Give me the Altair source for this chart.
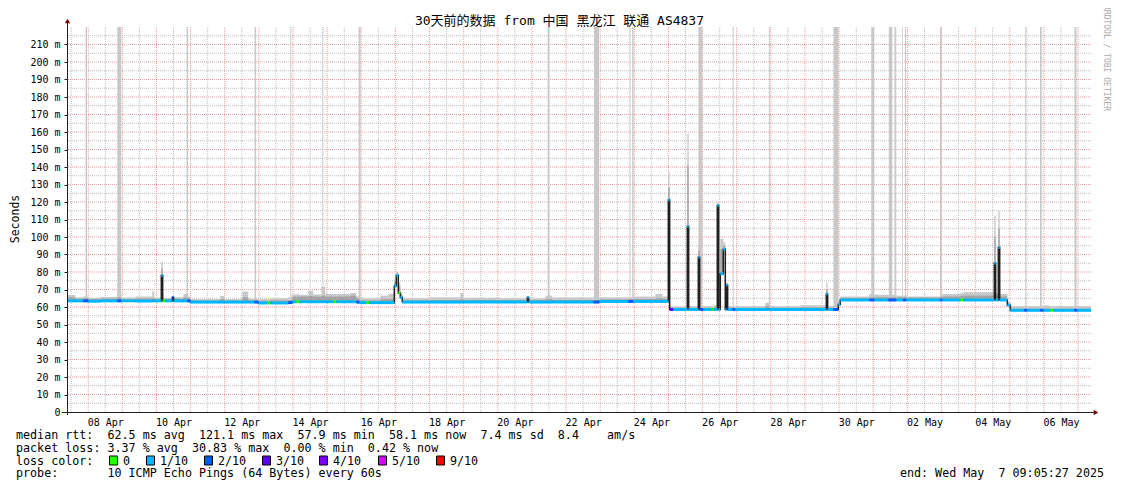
import altair as alt
import pandas as pd

TITLE = "30天前的数据 from 中国 黑龙江 联通 AS4837"
T_END = 30.0          # days shown (Apr 7 09:05:27 -> May 7 09:05:27)
Y_MAX = 220           # ms

# ---- median rtt segments: start (days since Apr 7 09:05:27), median (ms), loss (x/10)
SEG_T = [0.000, 0.243, 0.478, 0.624, 0.976, 1.474, 1.591, 2.001, 2.499, 2.558,
         2.763, 2.803, 2.880, 3.085, 3.125, 3.407, 3.524, 3.612, 4.491, 4.608,
         5.136, 5.311, 5.487, 5.604, 5.868, 5.956, 6.483, 6.601, 6.718, 6.806,
         7.069, 7.216, 7.450, 7.567, 7.802, 7.890, 8.300, 8.476, 8.564, 8.769,
         8.856, 9.179, 9.413, 9.589, 9.648, 9.706, 9.765, 9.823, 10.644, 11.522,
         11.610, 12.694, 13.485, 13.525, 14.013, 14.218, 15.419, 15.595, 16.445, 16.591,
         17.236, 17.440, 17.616, 17.656, 17.763, 18.173, 18.213, 18.495, 18.535, 18.642,
         18.876, 18.935, 19.052, 19.092, 19.140, 19.228, 19.286, 19.315, 19.355, 19.491,
         19.579, 20.458, 20.575, 21.483, 22.245, 22.285, 22.450, 22.597, 22.655, 23.505,
         23.652, 24.062, 24.296, 24.501, 24.589, 25.585, 25.644, 26.171, 26.259, 27.167,
         27.207, 27.285, 27.325, 27.548, 27.636, 28.046, 28.134, 28.515, 28.603, 28.808,
         28.896, 29.511, 29.599]
SEG_MED = [63.5, 63.5, 63.5, 63.3, 63.5, 63.5, 63.5, 63.4, 63.5, 63.5,
           78.0, 63.5, 63.5, 65.5, 63.5, 63.5, 63.5, 62.8, 62.8, 62.8,
           62.8, 62.8, 62.8, 62.3, 62.3, 62.3, 62.5, 63.0, 63.0, 63.0,
           63.0, 63.0, 63.0, 63.0, 63.0, 63.0, 63.0, 62.8, 62.5, 62.5,
           62.5, 62.5, 62.5, 72.0, 78.0, 68.0, 65.5, 62.8, 62.8, 62.8,
           62.8, 62.8, 65.5, 62.8, 62.8, 62.8, 62.8, 63.2, 63.2, 63.2,
           63.2, 63.2, 121.1, 58.6, 58.6, 106.0, 58.6, 88.5, 58.6, 58.6,
           58.6, 58.6, 118.0, 58.6, 79.0, 93.0, 58.6, 72.5, 58.6, 58.6,
           58.6, 58.6, 58.6, 58.6, 67.5, 58.6, 58.6, 61.5, 64.0, 64.0,
           64.0, 64.0, 64.0, 64.0, 64.0, 64.0, 64.0, 64.0, 64.0, 85.0,
           64.0, 94.0, 64.0, 61.0, 58.1, 58.1, 58.1, 58.1, 58.1, 58.1,
           58.1, 58.1, 58.1]
SEG_LOSS = [1, 1, 2, 1, 1, 2, 1, 1, 1, 1,
            1, 0, 1, 2, 1, 1, 2, 1, 1, 1,
            1, 1, 2, 1, 0, 1, 2, 1, 0, 1,
            1, 1, 1, 1, 0, 1, 1, 2, 1, 0,
            1, 1, 1, 1, 1, 0, 1, 1, 1, 1,
            1, 1, 1, 1, 1, 1, 2, 1, 2, 1,
            1, 1, 1, 3, 1, 1, 1, 1, 2, 1,
            0, 1, 1, 1, 1, 1, 1, 1, 1, 2,
            1, 1, 1, 1, 1, 1, 2, 1, 1, 2,
            1, 2, 1, 2, 1, 2, 1, 0, 1, 1,
            1, 1, 1, 1, 1, 2, 1, 2, 1, 0,
            1, 2, 1]
# ---- smoke (ms): darker inner smoke top, light outer smoke top
SMOKE_MID = [65.5, 64.8, 65.0, 64.6, 64.8, 65.5, 64.6, 64.8, 65.2, 64.6,
             82.0, 64.6, 64.6, 66.0, 64.8, 65.5, 65.0, 63.8, 64.5, 63.8,
             65.5, 63.8, 63.8, 63.5, 63.5, 63.8, 64.0, 65.9, 65.9, 66.0,
             66.3, 65.9, 66.5, 65.9, 66.0, 66.0, 66.5, 65.0, 63.8, 63.8,
             63.8, 64.5, 64.5, 74.0, 79.0, 72.0, 67.0, 63.8, 64.0, 64.5,
             64.0, 63.8, 66.0, 64.0, 64.5, 64.0, 64.0, 64.3, 64.3, 64.5,
             65.0, 64.5, 128.0, 59.5, 59.5, 141.0, 59.5, 92.0, 59.5, 59.5,
             59.5, 59.5, 119.0, 59.5, 93.0, 95.0, 60.0, 73.0, 59.5, 59.5,
             59.5, 60.5, 59.5, 59.8, 70.0, 59.5, 59.5, 62.5, 65.2, 65.5,
             65.5, 65.5, 65.5, 65.5, 65.5, 65.8, 66.0, 66.5, 66.5, 100.0,
             66.5, 105.0, 66.0, 62.0, 59.0, 59.0, 59.0, 59.0, 59.0, 59.0,
             59.0, 59.0, 59.0]
SMOKE_HI = [66.9, 65.5, 66.0, 65.3, 65.8, 67.4, 65.5, 66.0, 69.0, 65.3,
            86.0, 65.2, 65.2, 66.5, 65.5, 67.4, 66.0, 64.5, 66.3, 64.5,
            68.8, 64.8, 64.8, 64.6, 64.6, 65.0, 65.5, 67.2, 67.5, 67.0,
            69.3, 67.2, 71.6, 67.5, 67.5, 67.5, 68.0, 66.0, 65.0, 65.0,
            65.0, 66.5, 67.5, 76.0, 80.0, 74.0, 68.0, 65.0, 65.5, 68.0,
            65.3, 65.0, 66.5, 65.0, 66.5, 65.5, 65.5, 65.5, 65.5, 66.0,
            67.5, 66.0, 137.0, 60.3, 60.3, 159.0, 60.5, 95.0, 60.5, 60.5,
            60.5, 61.0, 120.0, 61.0, 99.0, 97.0, 61.0, 74.0, 60.5, 60.5,
            60.5, 62.5, 60.5, 61.0, 74.0, 60.5, 60.5, 63.5, 66.0, 67.4,
            67.0, 67.0, 66.5, 66.5, 66.0, 67.0, 67.5, 68.0, 68.5, 112.0,
            68.0, 115.0, 67.5, 63.0, 60.5, 60.5, 60.5, 60.5, 60.8, 60.5,
            60.5, 60.5, 60.5]

# ---- full-height smoke bars (pings far above the scale)
BAR_T0 = [0.545, 1.474, 3.504, 5.497, 6.543, 7.480, 8.544, 14.082, 15.438, 16.478,
          16.558, 18.500, 19.502, 20.563, 22.453, 23.563, 24.078, 24.245, 24.465, 24.553,
          25.576, 28.074, 28.508, 29.517]
BAR_T1 = [0.586, 1.591, 3.545, 5.538, 6.572, 7.510, 8.602, 14.132, 15.588, 16.507,
          16.599, 18.608, 19.531, 20.592, 22.603, 23.653, 24.178, 24.295, 24.486, 24.582,
          25.617, 28.100, 28.558, 29.576]
BAR_LO = [64, 64, 64, 63, 63, 63, 63, 63, 63, 63,
          63, 58.6, 58.6, 58.6, 58.6, 64, 64, 64, 64, 64,
          64, 58.1, 58.1, 58.1]

X_LABELS = ["08 Apr", "10 Apr", "12 Apr", "14 Apr", "16 Apr", "18 Apr", "20 Apr", "22 Apr",
            "24 Apr", "26 Apr", "28 Apr", "30 Apr", "02 May", "04 May", "06 May"]
FIRST_LABEL = 1.1212      # Apr 8 12:00
FIRST_NOON = 0.1212       # Apr 7 12:00
FIRST_MIDNIGHT = 0.6212   # Apr 8 00:00
Y_TICKS = list(range(0, 211, 10))

LOSS_LEVELS = [0, 1, 2, 3, 4, 5, 9]
LOSS_LABELS = ["0", "1/10", "2/10", "3/10", "4/10", "5/10", "9/10"]
LOSS_COLORS = ["#26ff00", "#00b8ff", "#0059ff", "#5e00ff", "#7e00ff", "#dd00ff", "#ff0000"]

ROW1 = "median rtt:  62.5 ms avg  121.1 ms max  57.9 ms min  58.1 ms now  7.4 ms sd  8.4    am/s"
ROW2 = "packet loss: 3.37 % avg  30.83 % max  0.00 % min  0.42 % now"
ROW3 = "loss color:"
ROW4 = "probe:       10 ICMP Echo Pings (64 Bytes) every 60s"
END_TXT = "end: Wed May  7 09:05:27 2025"
WATERMARK = "RRDTOOL / TOBI OETIKER"

# ---------------------------------------------------------------- layout
W, H = 1024, 385
MONO = "DejaVu Sans Mono, Noto Sans CJK SC"
LEG_X = [42, 79, 137, 195, 252, 311, 369]   # square left edges (px)
ROW_Y = [407.5, 420.5, 433.5, 445.5]         # text rows below the plot (px)

seg = pd.DataFrame({"t": SEG_T, "med": SEG_MED, "loss": SEG_LOSS,
                    "mid": SMOKE_MID, "hi": SMOKE_HI})
seg["t2"] = SEG_T[1:] + [T_END]
seg["m_lo"] = seg["med"] - 0.85
seg["m_hi"] = seg["med"] + 0.85
line_df = pd.DataFrame({"t": SEG_T + [T_END], "med": SEG_MED + [SEG_MED[-1]]})
bars = pd.DataFrame({"t0": BAR_T0, "t1": BAR_T1, "lo": BAR_LO, "top": [Y_MAX] * len(BAR_T0)})

label_vals = [FIRST_LABEL + 2 * i for i in range(len(X_LABELS))]
arr = "[" + ",".join("'%s'" % s for s in X_LABELS) + "]"
XAX = alt.Axis(values=label_vals, labelExpr=f"{arr}[round((datum.value - {FIRST_LABEL}) / 2)]",
               title=None, grid=False, domain=False, ticks=True, tickSize=0,
               labelFont=MONO, labelFontSize=10, labelColor="#000000", labelPadding=5,
               labelAngle=0, labelFlush=False, labelOverlap=False)
YAX = alt.Axis(values=Y_TICKS,
               labelExpr="datum.value == 0 ? '0\u00a0\u00a0' : datum.value + '\u00a0m'",
               title=None, grid=False, domain=False, ticks=True, tickSize=3, tickColor="#212121",
               labelFont=MONO, labelFontSize=10, labelColor="#000000", labelPadding=4)
XS = alt.Scale(domain=[0, T_END], nice=False, zero=False)
YS = alt.Scale(domain=[0, Y_MAX], nice=False, zero=False)


def X(f):
    return alt.X(f, type="quantitative", scale=XS, axis=XAX)


def Y(f):
    return alt.Y(f, type="quantitative", scale=YS, axis=YAX)


ONE = pd.DataFrame({"k": [0]})


def label(s, x, y, size=11.7, align="left", angle=0, color="#000000", font=MONO):
    return alt.Chart(ONE).mark_text(text=s.replace(" ", "\u00a0"), font=font, fontSize=size,
                                    align=align, angle=angle, color=color,
                                    baseline="middle").encode(x=alt.value(x), y=alt.value(y))


grid_minor_y = alt.Chart(pd.DataFrame({"v": list(range(5, Y_MAX, 10))})).mark_rule(
    color="#999999", opacity=0.65, strokeDash=[1, 1], strokeWidth=1).encode(y=Y("v"))
grid_minor_x = alt.Chart(pd.DataFrame({"v": [FIRST_NOON + k for k in range(30)]})).mark_rule(
    color="#999999", opacity=0.65, strokeDash=[1, 1], strokeWidth=1).encode(x=X("v"))
grid_major_y = alt.Chart(pd.DataFrame({"v": list(range(10, Y_MAX, 10))})).mark_rule(
    color="#e05a5a", opacity=0.6, strokeDash=[1, 1], strokeWidth=1).encode(y=Y("v"))
grid_major_x = alt.Chart(pd.DataFrame({"v": [FIRST_MIDNIGHT + k for k in range(30)]})).mark_rule(
    color="#e05a5a", opacity=0.6, strokeDash=[1, 1], strokeWidth=1).encode(x=X("v"))

smoke_hi = alt.Chart(seg).mark_rect(color="#c8c8c8").encode(x=X("t"), x2="t2", y=Y("med"), y2="hi")
full_bars = alt.Chart(bars).mark_rect(color="#c8c8c8").encode(x=X("t0"), x2="t1", y=Y("lo"), y2="top")
smoke_mid = alt.Chart(seg).mark_rect(color="#a2a2a2").encode(x=X("t"), x2="t2", y=Y("med"), y2="mid")
median = alt.Chart(line_df).mark_line(color="#202020", strokeWidth=1.5, interpolate="step-after").encode(
    x=X("t"), y=Y("med"))
stripe = alt.Chart(seg).mark_rect().encode(
    x=X("t"), x2="t2", y=Y("m_lo"), y2="m_hi",
    color=alt.Color("loss:N", scale=alt.Scale(domain=LOSS_LEVELS, range=LOSS_COLORS), legend=None))

axis_y = alt.Chart(ONE).mark_rule(color="#212121", strokeWidth=1).encode(
    x=alt.value(0.5), y=alt.value(-6), y2=alt.value(H + 3))
axis_x = alt.Chart(ONE).mark_rule(color="#212121", strokeWidth=1).encode(
    x=alt.value(-5), x2=alt.value(W + 4), y=alt.value(H + 0.5))
arrow_up = alt.Chart(ONE).mark_point(shape="triangle-up", filled=True, size=28, color="#800000",
                                     opacity=1).encode(x=alt.value(0.5), y=alt.value(-6))
arrow_rt = alt.Chart(ONE).mark_point(shape="triangle-right", filled=True, size=28, color="#800000",
                                     opacity=1).encode(x=alt.value(W + 5), y=alt.value(H + 0.5))

texts = [
    label(TITLE, 492.5, -6, size=13, align="center"),
    label("Seconds", -51.5, 192, size=11.5, align="center", angle=270),
    label(WATERMARK, 1039, -22, size=8, align="left", angle=90, color="#a8a8a8"),
    label(ROW1, -51, ROW_Y[0]),
    label(ROW2, -51, ROW_Y[1]),
    label(ROW3, -51, ROW_Y[2]),
    label(ROW4, -51, ROW_Y[3]),
    label(END_TXT, 1037, ROW_Y[3], align="right"),
]
legend_layers = []
for i, (lab, col) in enumerate(zip(LOSS_LABELS, LOSS_COLORS)):
    legend_layers.append(
        alt.Chart(ONE).mark_rect(fill=col, stroke="#000000", strokeWidth=1).encode(
            x=alt.value(LEG_X[i] + 0.5), x2=alt.value(LEG_X[i] + 8.5),
            y=alt.value(ROW_Y[2] - 4.5), y2=alt.value(ROW_Y[2] + 4.5)))
    legend_layers.append(label(lab, LEG_X[i] + 14, ROW_Y[2]))

chart = alt.layer(
    grid_minor_y, grid_minor_x, grid_major_y, grid_major_x,
    smoke_hi, full_bars, smoke_mid, median, stripe,
    axis_y, axis_x, arrow_up, arrow_rt,
    *texts, *legend_layers
).properties(
    width=W, height=H,
    padding={"left": 59, "top": 19, "right": 22, "bottom": 68},
    autosize=alt.AutoSizeParams(type="none"),
    background="#ffffff",
).configure_view(stroke=None)

chart.save("out.html", embed_options={"renderer": "svg", "actions": False})
